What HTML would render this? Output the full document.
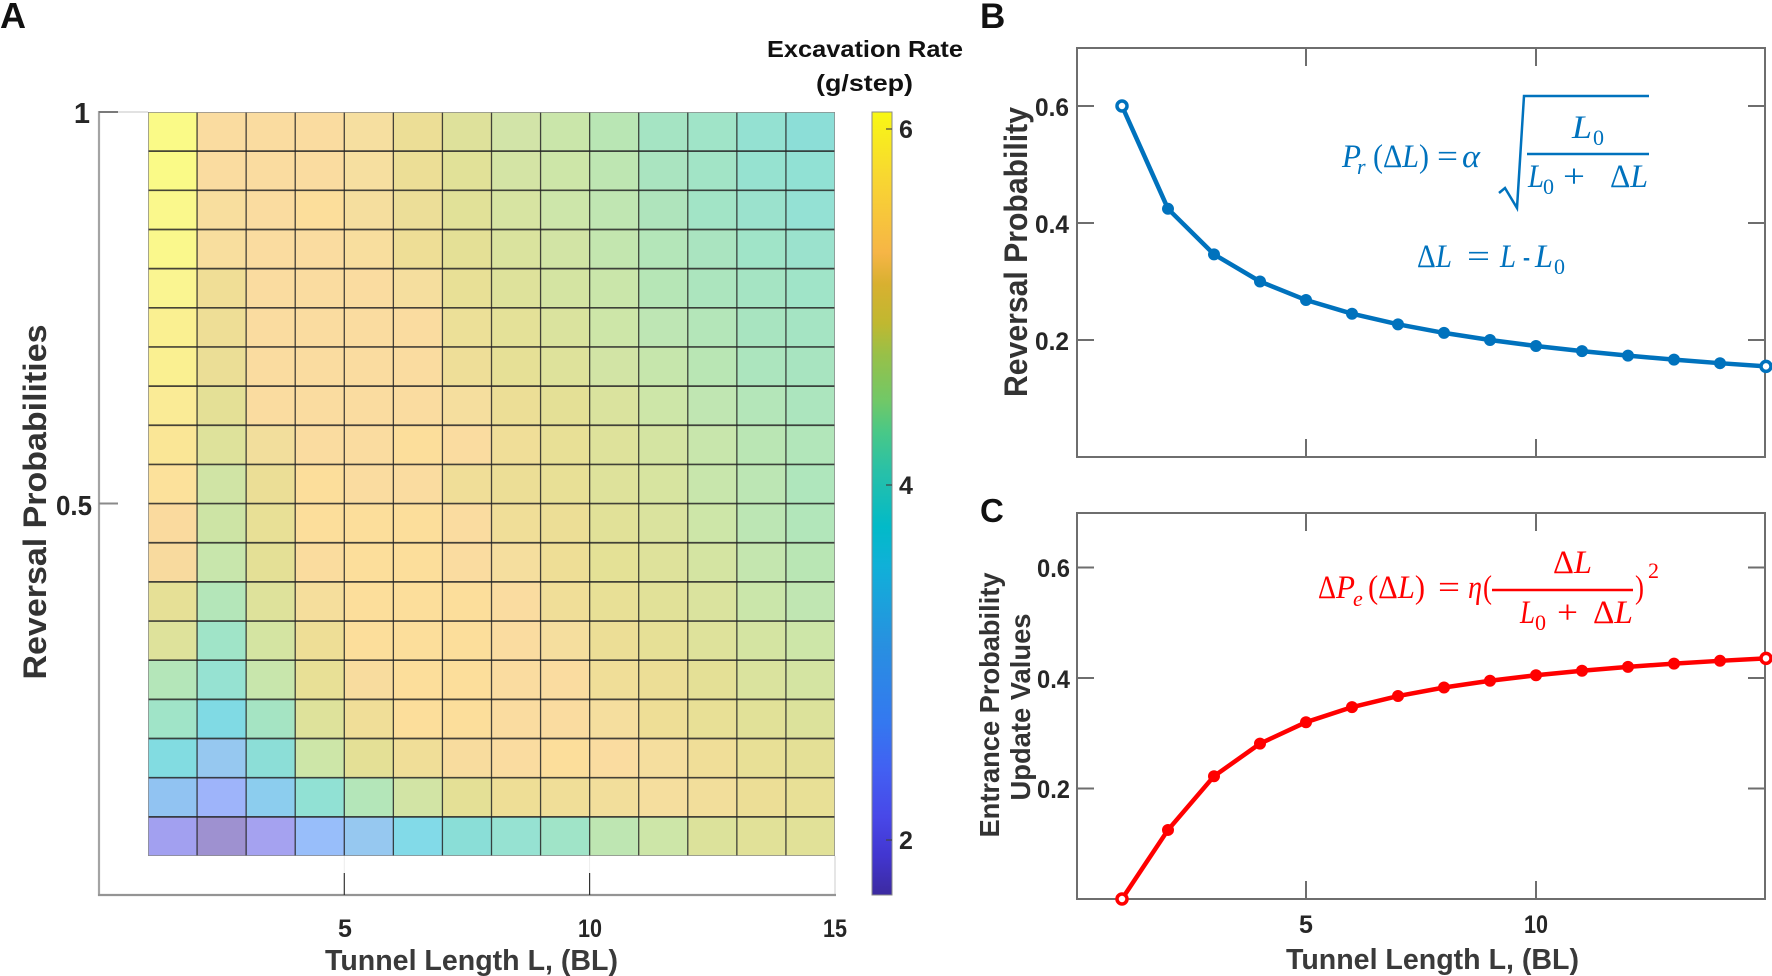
<!DOCTYPE html>
<html><head><meta charset="utf-8"><style>
html,body{margin:0;padding:0;background:#fff;}
svg{display:block;}
.t{font-family:"Liberation Sans",Arial,sans-serif;font-weight:bold;}
.m{font-family:"Liberation Serif","DejaVu Serif",serif;}
.i{font-style:italic;}
</style></head><body>
<svg width="1772" height="976" viewBox="0 0 1772 976" xmlns="http://www.w3.org/2000/svg">
<defs>
<linearGradient id="par" x1="0" y1="1" x2="0" y2="0">
<stop offset="0" stop-color="#3C2AA0"/>
<stop offset="0.05" stop-color="#4236D0"/>
<stop offset="0.10" stop-color="#4848E8"/>
<stop offset="0.16" stop-color="#4260F2"/>
<stop offset="0.22" stop-color="#3478F0"/>
<stop offset="0.32" stop-color="#2890E0"/>
<stop offset="0.42" stop-color="#10B0D8"/>
<stop offset="0.47" stop-color="#02BAC8"/>
<stop offset="0.54" stop-color="#28C0A8"/>
<stop offset="0.59" stop-color="#48C888"/>
<stop offset="0.63" stop-color="#70C868"/>
<stop offset="0.69" stop-color="#98C048"/>
<stop offset="0.73" stop-color="#C0B830"/>
<stop offset="0.78" stop-color="#D8B030"/>
<stop offset="0.82" stop-color="#F6B546"/>
<stop offset="0.92" stop-color="#F8D830"/>
<stop offset="1" stop-color="#F8F814"/>
</linearGradient>
</defs>
<rect width="1772" height="976" fill="#fff"/>

<!-- ===== Panel A ===== -->
<text class="t" x="0" y="28" font-size="36" fill="#111">A</text>

<line x1="99" y1="112" x2="148" y2="112" stroke="#e2e2e2" stroke-width="2"/>
<line x1="835" y1="856" x2="835" y2="895" stroke="#e6e6e6" stroke-width="2"/>
<line x1="99" y1="111" x2="99" y2="896" stroke="#a4a4a4" stroke-width="2.2"/>
<line x1="98" y1="895" x2="836" y2="895" stroke="#949494" stroke-width="2.2"/>
<line x1="99" y1="112" x2="118" y2="112" stroke="#7a7a7a" stroke-width="2"/>
<line x1="99" y1="503.5" x2="118" y2="503.5" stroke="#8a8a8a" stroke-width="2"/>
<line x1="344.3" y1="856" x2="344.3" y2="873" stroke="#ececec" stroke-width="1"/>
<line x1="589.6" y1="856" x2="589.6" y2="873" stroke="#ececec" stroke-width="1"/>
<line x1="344.3" y1="873" x2="344.3" y2="895" stroke="#333" stroke-width="1.2"/>
<line x1="589.6" y1="873" x2="589.6" y2="895" stroke="#333" stroke-width="1.2"/>

<svg x="148" y="112" width="687" height="744" viewBox="0 0 14 19" preserveAspectRatio="none">
<g shape-rendering="crispEdges">
<rect x="0" y="0" width="1" height="1" fill="#FAFA87"/><rect x="1" y="0" width="1" height="1" fill="#FADCA0"/><rect x="2" y="0" width="1" height="1" fill="#FADCA0"/><rect x="3" y="0" width="1" height="1" fill="#FADCA0"/><rect x="4" y="0" width="1" height="1" fill="#F6DFA0"/><rect x="5" y="0" width="1" height="1" fill="#ECDE96"/><rect x="6" y="0" width="1" height="1" fill="#DEE19B"/><rect x="7" y="0" width="1" height="1" fill="#D2E4A8"/><rect x="8" y="0" width="1" height="1" fill="#CAE6AA"/><rect x="9" y="0" width="1" height="1" fill="#B9E6B4"/><rect x="10" y="0" width="1" height="1" fill="#A5E4C3"/><rect x="11" y="0" width="1" height="1" fill="#A0E4C8"/><rect x="12" y="0" width="1" height="1" fill="#94E1D2"/><rect x="13" y="0" width="1" height="1" fill="#8CDED7"/>
<rect x="0" y="1" width="1" height="1" fill="#FAFA87"/><rect x="1" y="1" width="1" height="1" fill="#FADCA0"/><rect x="2" y="1" width="1" height="1" fill="#FADCA0"/><rect x="3" y="1" width="1" height="1" fill="#FADCA0"/><rect x="4" y="1" width="1" height="1" fill="#F6DFA0"/><rect x="5" y="1" width="1" height="1" fill="#ECDE96"/><rect x="6" y="1" width="1" height="1" fill="#E1E198"/><rect x="7" y="1" width="1" height="1" fill="#D4E4A5"/><rect x="8" y="1" width="1" height="1" fill="#CDE6A8"/><rect x="9" y="1" width="1" height="1" fill="#BEE6B2"/><rect x="10" y="1" width="1" height="1" fill="#AAE4C0"/><rect x="11" y="1" width="1" height="1" fill="#A2E4C6"/><rect x="12" y="1" width="1" height="1" fill="#96E2D0"/><rect x="13" y="1" width="1" height="1" fill="#91E1D4"/>
<rect x="0" y="2" width="1" height="1" fill="#FAF88C"/><rect x="1" y="2" width="1" height="1" fill="#F8DE9E"/><rect x="2" y="2" width="1" height="1" fill="#FADCA0"/><rect x="3" y="2" width="1" height="1" fill="#FCDE9B"/><rect x="4" y="2" width="1" height="1" fill="#F5DE9E"/><rect x="5" y="2" width="1" height="1" fill="#ECDE98"/><rect x="6" y="2" width="1" height="1" fill="#E1E198"/><rect x="7" y="2" width="1" height="1" fill="#D7E4A2"/><rect x="8" y="2" width="1" height="1" fill="#CDE6AA"/><rect x="9" y="2" width="1" height="1" fill="#C0E6B2"/><rect x="10" y="2" width="1" height="1" fill="#AFE4BC"/><rect x="11" y="2" width="1" height="1" fill="#A2E4C6"/><rect x="12" y="2" width="1" height="1" fill="#9BE2CD"/><rect x="13" y="2" width="1" height="1" fill="#94E1D4"/>
<rect x="0" y="3" width="1" height="1" fill="#FAF88C"/><rect x="1" y="3" width="1" height="1" fill="#F8DE9E"/><rect x="2" y="3" width="1" height="1" fill="#FADCA0"/><rect x="3" y="3" width="1" height="1" fill="#FADCA0"/><rect x="4" y="3" width="1" height="1" fill="#F8DE9E"/><rect x="5" y="3" width="1" height="1" fill="#EEDE96"/><rect x="6" y="3" width="1" height="1" fill="#E4E096"/><rect x="7" y="3" width="1" height="1" fill="#DAE39E"/><rect x="8" y="3" width="1" height="1" fill="#D2E4A5"/><rect x="9" y="3" width="1" height="1" fill="#C3E6AF"/><rect x="10" y="3" width="1" height="1" fill="#B4E6B9"/><rect x="11" y="3" width="1" height="1" fill="#AAE4C0"/><rect x="12" y="3" width="1" height="1" fill="#A0E4C8"/><rect x="13" y="3" width="1" height="1" fill="#9BE2CD"/>
<rect x="0" y="4" width="1" height="1" fill="#FAF591"/><rect x="1" y="4" width="1" height="1" fill="#F0DE96"/><rect x="2" y="4" width="1" height="1" fill="#FADCA0"/><rect x="3" y="4" width="1" height="1" fill="#FADCA0"/><rect x="4" y="4" width="1" height="1" fill="#FADCA0"/><rect x="5" y="4" width="1" height="1" fill="#F5DE9E"/><rect x="6" y="4" width="1" height="1" fill="#E8E096"/><rect x="7" y="4" width="1" height="1" fill="#DEE29B"/><rect x="8" y="4" width="1" height="1" fill="#D4E4A2"/><rect x="9" y="4" width="1" height="1" fill="#CAE6AA"/><rect x="10" y="4" width="1" height="1" fill="#B6E6B6"/><rect x="11" y="4" width="1" height="1" fill="#ACE5BE"/><rect x="12" y="4" width="1" height="1" fill="#A5E4C3"/><rect x="13" y="4" width="1" height="1" fill="#A0E4C8"/>
<rect x="0" y="5" width="1" height="1" fill="#FAF091"/><rect x="1" y="5" width="1" height="1" fill="#EEDE96"/><rect x="2" y="5" width="1" height="1" fill="#FADCA0"/><rect x="3" y="5" width="1" height="1" fill="#FADCA0"/><rect x="4" y="5" width="1" height="1" fill="#FADCA0"/><rect x="5" y="5" width="1" height="1" fill="#FADCA0"/><rect x="6" y="5" width="1" height="1" fill="#ECE098"/><rect x="7" y="5" width="1" height="1" fill="#E4E198"/><rect x="8" y="5" width="1" height="1" fill="#DAE39E"/><rect x="9" y="5" width="1" height="1" fill="#CDE6A8"/><rect x="10" y="5" width="1" height="1" fill="#BEE6B4"/><rect x="11" y="5" width="1" height="1" fill="#B4E6B9"/><rect x="12" y="5" width="1" height="1" fill="#A8E4C0"/><rect x="13" y="5" width="1" height="1" fill="#A5E4C3"/>
<rect x="0" y="6" width="1" height="1" fill="#FAF091"/><rect x="1" y="6" width="1" height="1" fill="#EBDE96"/><rect x="2" y="6" width="1" height="1" fill="#FADCA0"/><rect x="3" y="6" width="1" height="1" fill="#FADCA0"/><rect x="4" y="6" width="1" height="1" fill="#FADCA0"/><rect x="5" y="6" width="1" height="1" fill="#FADCA0"/><rect x="6" y="6" width="1" height="1" fill="#EEDE98"/><rect x="7" y="6" width="1" height="1" fill="#E6E096"/><rect x="8" y="6" width="1" height="1" fill="#DEE29B"/><rect x="9" y="6" width="1" height="1" fill="#D2E4A5"/><rect x="10" y="6" width="1" height="1" fill="#C6E6AC"/><rect x="11" y="6" width="1" height="1" fill="#B9E6B4"/><rect x="12" y="6" width="1" height="1" fill="#ACE5BE"/><rect x="13" y="6" width="1" height="1" fill="#A8E4C0"/>
<rect x="0" y="7" width="1" height="1" fill="#FAEB96"/><rect x="1" y="7" width="1" height="1" fill="#E4E096"/><rect x="2" y="7" width="1" height="1" fill="#FADCA0"/><rect x="3" y="7" width="1" height="1" fill="#FADCA0"/><rect x="4" y="7" width="1" height="1" fill="#FADCA0"/><rect x="5" y="7" width="1" height="1" fill="#FADCA0"/><rect x="6" y="7" width="1" height="1" fill="#F5DE9E"/><rect x="7" y="7" width="1" height="1" fill="#ECDE96"/><rect x="8" y="7" width="1" height="1" fill="#E4E096"/><rect x="9" y="7" width="1" height="1" fill="#DAE39E"/><rect x="10" y="7" width="1" height="1" fill="#CDE6A8"/><rect x="11" y="7" width="1" height="1" fill="#C0E6B2"/><rect x="12" y="7" width="1" height="1" fill="#B4E6B9"/><rect x="13" y="7" width="1" height="1" fill="#ACE5BE"/>
<rect x="0" y="8" width="1" height="1" fill="#FAE696"/><rect x="1" y="8" width="1" height="1" fill="#DEE29B"/><rect x="2" y="8" width="1" height="1" fill="#F2DE9C"/><rect x="3" y="8" width="1" height="1" fill="#FADCA0"/><rect x="4" y="8" width="1" height="1" fill="#FADCA0"/><rect x="5" y="8" width="1" height="1" fill="#FCDE9B"/><rect x="6" y="8" width="1" height="1" fill="#FADCA0"/><rect x="7" y="8" width="1" height="1" fill="#F0DE98"/><rect x="8" y="8" width="1" height="1" fill="#E8E096"/><rect x="9" y="8" width="1" height="1" fill="#DEE29B"/><rect x="10" y="8" width="1" height="1" fill="#D4E4A2"/><rect x="11" y="8" width="1" height="1" fill="#C8E6AC"/><rect x="12" y="8" width="1" height="1" fill="#BAE6B4"/><rect x="13" y="8" width="1" height="1" fill="#B2E6BA"/>
<rect x="0" y="9" width="1" height="1" fill="#FCE19B"/><rect x="1" y="9" width="1" height="1" fill="#D0E4A5"/><rect x="2" y="9" width="1" height="1" fill="#EBDE96"/><rect x="3" y="9" width="1" height="1" fill="#FCDE9B"/><rect x="4" y="9" width="1" height="1" fill="#FADCA0"/><rect x="5" y="9" width="1" height="1" fill="#FADCA0"/><rect x="6" y="9" width="1" height="1" fill="#F0DE98"/><rect x="7" y="9" width="1" height="1" fill="#ECDE96"/><rect x="8" y="9" width="1" height="1" fill="#E8E096"/><rect x="9" y="9" width="1" height="1" fill="#DEE29B"/><rect x="10" y="9" width="1" height="1" fill="#D7E4A0"/><rect x="11" y="9" width="1" height="1" fill="#C8E6AC"/><rect x="12" y="9" width="1" height="1" fill="#BCE6B4"/><rect x="13" y="9" width="1" height="1" fill="#AFE6BC"/>
<rect x="0" y="10" width="1" height="1" fill="#FADA9E"/><rect x="1" y="10" width="1" height="1" fill="#CDE4A5"/><rect x="2" y="10" width="1" height="1" fill="#E8E096"/><rect x="3" y="10" width="1" height="1" fill="#FCDE9B"/><rect x="4" y="10" width="1" height="1" fill="#FCDE9B"/><rect x="5" y="10" width="1" height="1" fill="#FCDE9B"/><rect x="6" y="10" width="1" height="1" fill="#FADCA0"/><rect x="7" y="10" width="1" height="1" fill="#F0DE98"/><rect x="8" y="10" width="1" height="1" fill="#ECDE96"/><rect x="9" y="10" width="1" height="1" fill="#E1E198"/><rect x="10" y="10" width="1" height="1" fill="#DAE39E"/><rect x="11" y="10" width="1" height="1" fill="#CDE6A8"/><rect x="12" y="10" width="1" height="1" fill="#BCE6B4"/><rect x="13" y="10" width="1" height="1" fill="#B2E6BA"/>
<rect x="0" y="11" width="1" height="1" fill="#F8DA9E"/><rect x="1" y="11" width="1" height="1" fill="#C8E6AC"/><rect x="2" y="11" width="1" height="1" fill="#E4E096"/><rect x="3" y="11" width="1" height="1" fill="#FADC9E"/><rect x="4" y="11" width="1" height="1" fill="#FCDE9B"/><rect x="5" y="11" width="1" height="1" fill="#FCDE9B"/><rect x="6" y="11" width="1" height="1" fill="#FADCA0"/><rect x="7" y="11" width="1" height="1" fill="#F5DE9E"/><rect x="8" y="11" width="1" height="1" fill="#EEDE96"/><rect x="9" y="11" width="1" height="1" fill="#E4E196"/><rect x="10" y="11" width="1" height="1" fill="#DEE29B"/><rect x="11" y="11" width="1" height="1" fill="#D4E4A2"/><rect x="12" y="11" width="1" height="1" fill="#C4E6AF"/><rect x="13" y="11" width="1" height="1" fill="#B9E6B4"/>
<rect x="0" y="12" width="1" height="1" fill="#E6E096"/><rect x="1" y="12" width="1" height="1" fill="#B4E6B9"/><rect x="2" y="12" width="1" height="1" fill="#DEE29B"/><rect x="3" y="12" width="1" height="1" fill="#F5DE9C"/><rect x="4" y="12" width="1" height="1" fill="#FCDE9B"/><rect x="5" y="12" width="1" height="1" fill="#FCDE9B"/><rect x="6" y="12" width="1" height="1" fill="#FCDE9B"/><rect x="7" y="12" width="1" height="1" fill="#FADCA0"/><rect x="8" y="12" width="1" height="1" fill="#F0DE98"/><rect x="9" y="12" width="1" height="1" fill="#E8E096"/><rect x="10" y="12" width="1" height="1" fill="#E1E198"/><rect x="11" y="12" width="1" height="1" fill="#DAE39E"/><rect x="12" y="12" width="1" height="1" fill="#CAE6AA"/><rect x="13" y="12" width="1" height="1" fill="#C0E6B2"/>
<rect x="0" y="13" width="1" height="1" fill="#DEE29B"/><rect x="1" y="13" width="1" height="1" fill="#A0E4C8"/><rect x="2" y="13" width="1" height="1" fill="#D4E4A2"/><rect x="3" y="13" width="1" height="1" fill="#EEDE96"/><rect x="4" y="13" width="1" height="1" fill="#FCDE9B"/><rect x="5" y="13" width="1" height="1" fill="#FCDE9B"/><rect x="6" y="13" width="1" height="1" fill="#FCDE9B"/><rect x="7" y="13" width="1" height="1" fill="#FADCA0"/><rect x="8" y="13" width="1" height="1" fill="#F5DE9E"/><rect x="9" y="13" width="1" height="1" fill="#ECDE96"/><rect x="10" y="13" width="1" height="1" fill="#E6E096"/><rect x="11" y="13" width="1" height="1" fill="#DEE29B"/><rect x="12" y="13" width="1" height="1" fill="#D4E4A2"/><rect x="13" y="13" width="1" height="1" fill="#CDE6A8"/>
<rect x="0" y="14" width="1" height="1" fill="#B4E6B9"/><rect x="1" y="14" width="1" height="1" fill="#96E2D2"/><rect x="2" y="14" width="1" height="1" fill="#C8E6AC"/><rect x="3" y="14" width="1" height="1" fill="#E8E096"/><rect x="4" y="14" width="1" height="1" fill="#F8DC9E"/><rect x="5" y="14" width="1" height="1" fill="#FCDE9B"/><rect x="6" y="14" width="1" height="1" fill="#FCDE9B"/><rect x="7" y="14" width="1" height="1" fill="#FADCA0"/><rect x="8" y="14" width="1" height="1" fill="#FADCA0"/><rect x="9" y="14" width="1" height="1" fill="#F0DE98"/><rect x="10" y="14" width="1" height="1" fill="#ECDE96"/><rect x="11" y="14" width="1" height="1" fill="#E4E096"/><rect x="12" y="14" width="1" height="1" fill="#DAE39E"/><rect x="13" y="14" width="1" height="1" fill="#D4E4A2"/>
<rect x="0" y="15" width="1" height="1" fill="#A0E4C8"/><rect x="1" y="15" width="1" height="1" fill="#80DAE4"/><rect x="2" y="15" width="1" height="1" fill="#A5E4C3"/><rect x="3" y="15" width="1" height="1" fill="#DEE29B"/><rect x="4" y="15" width="1" height="1" fill="#F0DE98"/><rect x="5" y="15" width="1" height="1" fill="#FCDE9B"/><rect x="6" y="15" width="1" height="1" fill="#FCDE9B"/><rect x="7" y="15" width="1" height="1" fill="#FADCA0"/><rect x="8" y="15" width="1" height="1" fill="#FADCA0"/><rect x="9" y="15" width="1" height="1" fill="#F5DE9E"/><rect x="10" y="15" width="1" height="1" fill="#EEDE96"/><rect x="11" y="15" width="1" height="1" fill="#E8E096"/><rect x="12" y="15" width="1" height="1" fill="#E1E198"/><rect x="13" y="15" width="1" height="1" fill="#DCE29B"/>
<rect x="0" y="16" width="1" height="1" fill="#82DCE1"/><rect x="1" y="16" width="1" height="1" fill="#96C8F0"/><rect x="2" y="16" width="1" height="1" fill="#8CDED7"/><rect x="3" y="16" width="1" height="1" fill="#CDE6A8"/><rect x="4" y="16" width="1" height="1" fill="#E4E096"/><rect x="5" y="16" width="1" height="1" fill="#F0DE98"/><rect x="6" y="16" width="1" height="1" fill="#F8DC9E"/><rect x="7" y="16" width="1" height="1" fill="#FADCA0"/><rect x="8" y="16" width="1" height="1" fill="#FCDE9B"/><rect x="9" y="16" width="1" height="1" fill="#FADCA0"/><rect x="10" y="16" width="1" height="1" fill="#F5DE9E"/><rect x="11" y="16" width="1" height="1" fill="#F0DE98"/><rect x="12" y="16" width="1" height="1" fill="#E8E096"/><rect x="13" y="16" width="1" height="1" fill="#E4E096"/>
<rect x="0" y="17" width="1" height="1" fill="#91C3F2"/><rect x="1" y="17" width="1" height="1" fill="#9EB4FA"/><rect x="2" y="17" width="1" height="1" fill="#8CCDEE"/><rect x="3" y="17" width="1" height="1" fill="#91E1D4"/><rect x="4" y="17" width="1" height="1" fill="#B4E6B9"/><rect x="5" y="17" width="1" height="1" fill="#D2E4A5"/><rect x="6" y="17" width="1" height="1" fill="#E4E096"/><rect x="7" y="17" width="1" height="1" fill="#EEDE96"/><rect x="8" y="17" width="1" height="1" fill="#F0DE98"/><rect x="9" y="17" width="1" height="1" fill="#F2DE9B"/><rect x="10" y="17" width="1" height="1" fill="#F5DE9E"/><rect x="11" y="17" width="1" height="1" fill="#F2DE9B"/><rect x="12" y="17" width="1" height="1" fill="#ECDE96"/><rect x="13" y="17" width="1" height="1" fill="#E8E096"/>
<rect x="0" y="18" width="1" height="1" fill="#A2A0F0"/><rect x="1" y="18" width="1" height="1" fill="#9E91D0"/><rect x="2" y="18" width="1" height="1" fill="#A5A2F0"/><rect x="3" y="18" width="1" height="1" fill="#98BEFA"/><rect x="4" y="18" width="1" height="1" fill="#96C8F0"/><rect x="5" y="18" width="1" height="1" fill="#82DAE8"/><rect x="6" y="18" width="1" height="1" fill="#8ADED7"/><rect x="7" y="18" width="1" height="1" fill="#96E2D2"/><rect x="8" y="18" width="1" height="1" fill="#A0E4C8"/><rect x="9" y="18" width="1" height="1" fill="#BEE6B2"/><rect x="10" y="18" width="1" height="1" fill="#CDE6A8"/><rect x="11" y="18" width="1" height="1" fill="#DCE29B"/><rect x="12" y="18" width="1" height="1" fill="#E1E198"/><rect x="13" y="18" width="1" height="1" fill="#E1E198"/>
</g>
<g stroke="#262626" stroke-opacity="0.85" fill="none">
<path vector-effect="non-scaling-stroke" stroke-width="1.3" d="M1 0V19M2 0V19M3 0V19M4 0V19M5 0V19M6 0V19M7 0V19M8 0V19M9 0V19M10 0V19M11 0V19M12 0V19M13 0V19"/>
<path vector-effect="non-scaling-stroke" stroke-width="1.7" d="M0 1H14M0 2H14M0 3H14M0 4H14M0 5H14M0 6H14M0 7H14M0 8H14M0 9H14M0 10H14M0 11H14M0 12H14M0 13H14M0 14H14M0 15H14M0 16H14M0 17H14M0 18H14"/>
</g>
<rect x="0" y="0" width="14" height="19" fill="none" stroke="#8a8a8a" stroke-width="1.5" vector-effect="non-scaling-stroke"/>
</svg>

<g class="t" fill="#262626">
<text x="90" y="123" font-size="29" text-anchor="end">1</text>
<text x="92" y="515" font-size="28" text-anchor="end" textLength="36" lengthAdjust="spacingAndGlyphs">0.5</text>
<text x="345" y="937" font-size="25" text-anchor="middle">5</text>
<text x="590" y="937" font-size="25" text-anchor="middle" textLength="24" lengthAdjust="spacingAndGlyphs">10</text>
<text x="835" y="937" font-size="25" text-anchor="middle" textLength="24" lengthAdjust="spacingAndGlyphs">15</text>
</g>
<text class="t" x="325" y="970" font-size="29" fill="#3a3a3a" textLength="293" lengthAdjust="spacingAndGlyphs">Tunnel Length L, (BL)</text>
<text class="t" transform="translate(46,502) rotate(-90)" font-size="32" fill="#333" text-anchor="middle" textLength="355" lengthAdjust="spacingAndGlyphs">Reversal Probabilities</text>

<text class="t" x="767" y="57" font-size="23" fill="#111" textLength="196" lengthAdjust="spacingAndGlyphs">Excavation Rate</text>
<text class="t" x="816" y="91" font-size="23" fill="#111" textLength="97" lengthAdjust="spacingAndGlyphs">(g/step)</text>
<rect x="872" y="112" width="20" height="783" fill="url(#par)" stroke="#8a8a8a" stroke-width="1"/>
<g stroke="#444" stroke-width="1.2">
<line x1="886" y1="129" x2="892" y2="129"/>
<line x1="886" y1="485" x2="892" y2="485"/>
<line x1="886" y1="840" x2="892" y2="840"/>
</g>
<g class="t" fill="#262626" font-size="25">
<text x="899" y="138">6</text>
<text x="899" y="494">4</text>
<text x="899" y="849">2</text>
</g>

<!-- ===== Panel B ===== -->
<text class="t" x="980" y="28" font-size="35" fill="#111">B</text>
<rect x="1077" y="48" width="688" height="409" fill="none" stroke="#6e6e6e" stroke-width="2"/>
<g stroke="#6e6e6e" stroke-width="2">
<line x1="1077" y1="106" x2="1094" y2="106"/><line x1="1077" y1="223" x2="1094" y2="223"/><line x1="1077" y1="340" x2="1094" y2="340"/>
<line x1="1765" y1="106" x2="1748" y2="106"/><line x1="1765" y1="223" x2="1748" y2="223"/><line x1="1765" y1="340" x2="1748" y2="340"/>
<line x1="1306" y1="48" x2="1306" y2="66"/><line x1="1536" y1="48" x2="1536" y2="66"/>
<line x1="1306" y1="457" x2="1306" y2="439"/><line x1="1536" y1="457" x2="1536" y2="439"/>
</g>
<g class="t" fill="#262626" font-size="25" text-anchor="end">
<text x="1069" y="116" textLength="34" lengthAdjust="spacingAndGlyphs">0.6</text>
<text x="1069" y="233" textLength="34" lengthAdjust="spacingAndGlyphs">0.4</text>
<text x="1069" y="350" textLength="34" lengthAdjust="spacingAndGlyphs">0.2</text>
</g>
<text class="t" transform="translate(1027,252) rotate(-90)" font-size="32" fill="#333" text-anchor="middle" textLength="290" lengthAdjust="spacingAndGlyphs">Reversal Probability</text>

<polyline fill="none" stroke="#0072BD" stroke-width="4.5" stroke-linejoin="round" points="1122,106 1168,208.81 1214,254.35 1260,281.5 1306,300.03 1352,313.7 1398,324.33 1444,332.9 1490,340 1536,346 1582,351.17 1628,355.67 1674,359.65 1720,363.19 1766,366.37"/>
<g fill="#0072BD" stroke="#0072BD" stroke-width="2">
<circle cx="1168" cy="208.81" r="5"/><circle cx="1214" cy="254.35" r="5"/><circle cx="1260" cy="281.5" r="5"/><circle cx="1306" cy="300.03" r="5"/><circle cx="1352" cy="313.7" r="5"/><circle cx="1398" cy="324.33" r="5"/><circle cx="1444" cy="332.9" r="5"/><circle cx="1490" cy="340" r="5"/><circle cx="1536" cy="346" r="5"/><circle cx="1582" cy="351.17" r="5"/><circle cx="1628" cy="355.67" r="5"/><circle cx="1674" cy="359.65" r="5"/><circle cx="1720" cy="363.19" r="5"/>
</g>
<g fill="#fff" stroke="#0072BD" stroke-width="3.5">
<circle cx="1122" cy="106" r="5"/><circle cx="1766" cy="366.37" r="5"/>
</g>

<g class="m" fill="#0072BD" font-size="33">
<text class="i" x="1342" y="167" textLength="19" lengthAdjust="spacingAndGlyphs">P</text>
<text class="i" x="1357" y="174" font-size="22">r</text>
<text x="1373" y="167" textLength="56" lengthAdjust="spacingAndGlyphs">(Δ<tspan font-style="italic">L</tspan>)</text>
<text x="1437" y="167" textLength="21" lengthAdjust="spacingAndGlyphs">=</text>
<text class="i" x="1462" y="167" textLength="18" lengthAdjust="spacingAndGlyphs">α</text>
<text class="i" x="1572" y="138" textLength="20" lengthAdjust="spacingAndGlyphs">L</text>
<text x="1593" y="145" font-size="22">0</text>
<text class="i" x="1528" y="187" textLength="16" lengthAdjust="spacingAndGlyphs">L</text>
<text x="1543" y="194" font-size="22">0</text>
<text x="1563" y="187" textLength="22" lengthAdjust="spacingAndGlyphs">+</text>
<text x="1610" y="187" textLength="38" lengthAdjust="spacingAndGlyphs">Δ<tspan font-style="italic">L</tspan></text>
<text x="1417" y="267" textLength="35" lengthAdjust="spacingAndGlyphs">Δ<tspan font-style="italic">L</tspan></text>
<text x="1467" y="267" textLength="23" lengthAdjust="spacingAndGlyphs">=</text>
<text class="i" x="1500" y="267" textLength="16" lengthAdjust="spacingAndGlyphs">L</text>
<text x="1523" y="267" textLength="7" lengthAdjust="spacingAndGlyphs">-</text>
<text class="i" x="1535" y="267" textLength="18" lengthAdjust="spacingAndGlyphs">L</text>
<text x="1554" y="274" font-size="22">0</text>
</g>
<path d="M1499,193 L1505,188 L1517,208 L1524,96 L1649,96" fill="none" stroke="#0072BD" stroke-width="2.5" stroke-linejoin="miter"/>
<line x1="1527" y1="154" x2="1649" y2="154" stroke="#0072BD" stroke-width="2.5"/>

<!-- ===== Panel C ===== -->
<text class="t" x="980" y="522" font-size="33" fill="#111">C</text>
<rect x="1077" y="513" width="688" height="386" fill="none" stroke="#6e6e6e" stroke-width="2"/>
<g stroke="#6e6e6e" stroke-width="2">
<line x1="1077" y1="567.5" x2="1094" y2="567.5"/><line x1="1077" y1="678" x2="1094" y2="678"/><line x1="1077" y1="788.5" x2="1094" y2="788.5"/>
<line x1="1765" y1="567.5" x2="1748" y2="567.5"/><line x1="1765" y1="678" x2="1748" y2="678"/><line x1="1765" y1="788.5" x2="1748" y2="788.5"/>
<line x1="1306" y1="513" x2="1306" y2="531"/><line x1="1536" y1="513" x2="1536" y2="531"/>
<line x1="1306" y1="899" x2="1306" y2="881"/><line x1="1536" y1="899" x2="1536" y2="881"/>
</g>
<g class="t" fill="#262626" font-size="25">
<text x="1070" y="577" text-anchor="end" textLength="33" lengthAdjust="spacingAndGlyphs">0.6</text>
<text x="1070" y="688" text-anchor="end" textLength="33" lengthAdjust="spacingAndGlyphs">0.4</text>
<text x="1070" y="798" text-anchor="end" textLength="33" lengthAdjust="spacingAndGlyphs">0.2</text>
<text x="1306" y="933" text-anchor="middle">5</text>
<text x="1536" y="933" text-anchor="middle" textLength="24" lengthAdjust="spacingAndGlyphs">10</text>
</g>
<text class="t" x="1286" y="969" font-size="29" fill="#3a3a3a" textLength="293" lengthAdjust="spacingAndGlyphs">Tunnel Length L, (BL)</text>
<text class="t" transform="translate(999,705) rotate(-90)" font-size="28" fill="#333" text-anchor="middle" textLength="265" lengthAdjust="spacingAndGlyphs">Entrance Probability</text>
<text class="t" transform="translate(1030,707) rotate(-90)" font-size="28" fill="#333" text-anchor="middle" textLength="187" lengthAdjust="spacingAndGlyphs">Update Values</text>

<polyline fill="none" stroke="#FF0000" stroke-width="4.5" stroke-linejoin="round" points="1122,899 1168,829.94 1214,776.22 1260,743.61 1306,722.2 1352,707.16 1398,696.04 1444,687.5 1490,680.73 1536,675.24 1582,670.7 1628,666.87 1674,663.61 1720,660.81 1766,658.35"/>
<g fill="#FF0000" stroke="#FF0000" stroke-width="2">
<circle cx="1168" cy="829.94" r="5"/><circle cx="1214" cy="776.22" r="5"/><circle cx="1260" cy="743.61" r="5"/><circle cx="1306" cy="722.2" r="5"/><circle cx="1352" cy="707.16" r="5"/><circle cx="1398" cy="696.04" r="5"/><circle cx="1444" cy="687.5" r="5"/><circle cx="1490" cy="680.73" r="5"/><circle cx="1536" cy="675.24" r="5"/><circle cx="1582" cy="670.7" r="5"/><circle cx="1628" cy="666.87" r="5"/><circle cx="1674" cy="663.61" r="5"/><circle cx="1720" cy="660.81" r="5"/>
</g>
<g fill="#fff" stroke="#FF0000" stroke-width="3.5">
<circle cx="1122" cy="899" r="5"/><circle cx="1766" cy="658.35" r="5"/>
</g>

<g class="m" fill="#FF0000" font-size="33">
<text x="1318" y="598" textLength="18" lengthAdjust="spacingAndGlyphs">Δ</text>
<text class="i" x="1336" y="598" textLength="19" lengthAdjust="spacingAndGlyphs">P</text>
<text class="i" x="1353" y="606" font-size="22">e</text>
<text x="1368" y="598" textLength="57" lengthAdjust="spacingAndGlyphs">(Δ<tspan font-style="italic">L</tspan>)</text>
<text x="1438" y="598" textLength="22" lengthAdjust="spacingAndGlyphs">=</text>
<text class="i" x="1468" y="598" textLength="14" lengthAdjust="spacingAndGlyphs">η</text>
<text x="1483" y="598" textLength="9" lengthAdjust="spacingAndGlyphs">(</text>
<text x="1553" y="573" textLength="39" lengthAdjust="spacingAndGlyphs">Δ<tspan font-style="italic">L</tspan></text>
<text class="i" x="1520" y="623" textLength="15" lengthAdjust="spacingAndGlyphs">L</text>
<text x="1535" y="630" font-size="22">0</text>
<text x="1557" y="623" textLength="21" lengthAdjust="spacingAndGlyphs">+</text>
<text x="1593" y="623" textLength="40" lengthAdjust="spacingAndGlyphs">Δ<tspan font-style="italic">L</tspan></text>
<text x="1635" y="598" textLength="9" lengthAdjust="spacingAndGlyphs">)</text>
<text x="1648" y="578" font-size="22">2</text>
</g>
<line x1="1492" y1="590" x2="1633" y2="590" stroke="#FF0000" stroke-width="2.5"/>
</svg>
</body></html>
